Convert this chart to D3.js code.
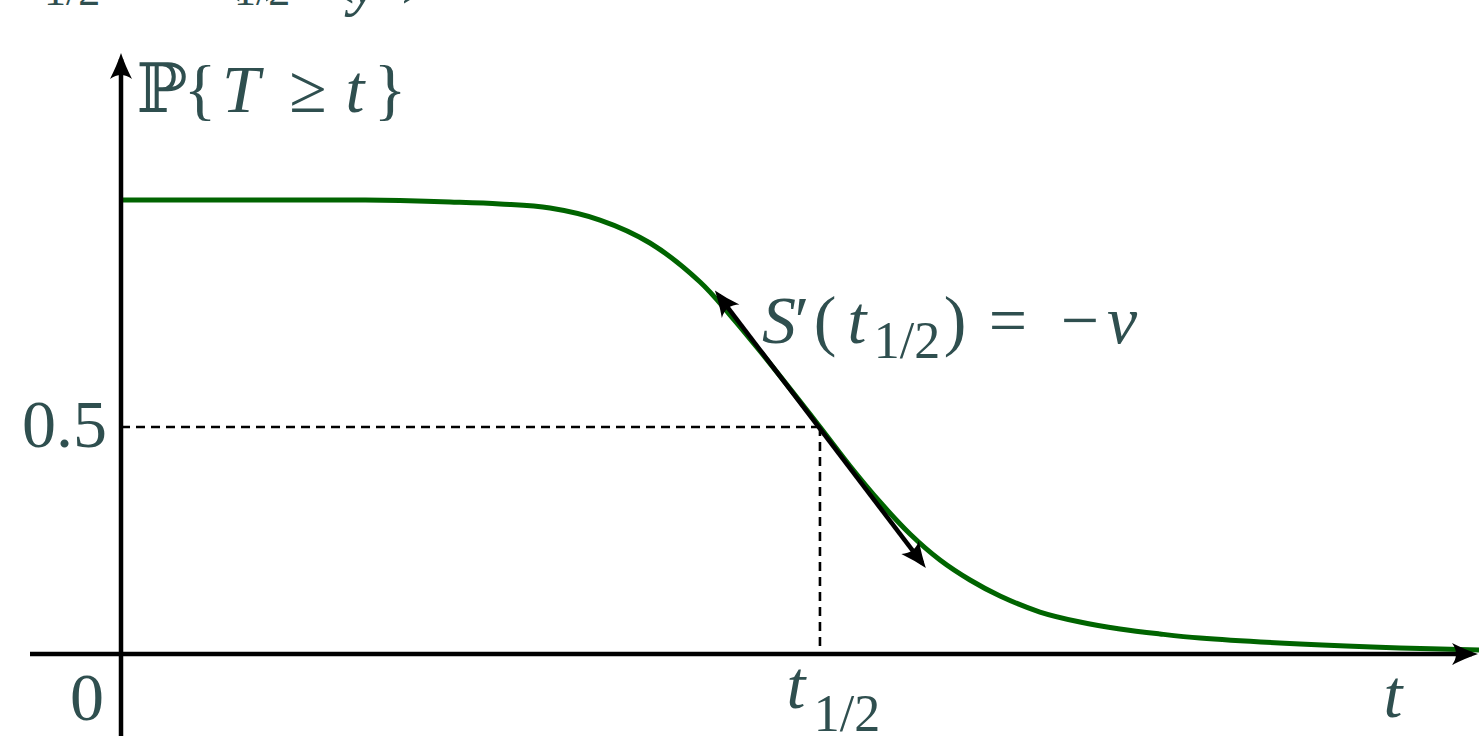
<!DOCTYPE html>
<html><head><meta charset="utf-8">
<script src="https://cdn.jsdelivr.net/npm/d3@7"></script>
<style>body{margin:0;background:#fff}svg{display:block}</style>
</head><body>
<svg id="c" width="1479" height="736"></svg>
<script>
// ---- data ----
const tValues  = [0, 1.318, 1.686, 2.054, 2.423, 2.791, 3.159, 3.527, 3.895, 4.264, 4.485, 4.705, 5.147, 5.368, 5.589, 5.810, 6.031, 6.252, 6.473, 6.767, 7.062, 7.356, 7.651, 7.946, 8.682, 9.418, 10];
const survival = [1.0, 1.0, 1.0, 0.9987, 0.9956, 0.9912, 0.9824, 0.9559, 0.9053, 0.8194, 0.7467, 0.6674, 0.5, 0.4141, 0.3348, 0.2643, 0.2070, 0.1630, 0.1278, 0.0925, 0.0705, 0.0551, 0.0441, 0.0352, 0.0220, 0.0132, 0.0088];
const halfLifeT = 5.147;
const halfValue = 0.5;
const tangentT = [4.40, 5.90];
const tangentS = [0.790, 0.200];
const yTickValues = [0.5];
const yTickLabels = ["0.5"];

// ---- scales ----
const W = 1479, H = 736;
const x = d3.scaleLinear().domain([0, 10]).range([121, 1479]);
const y = d3.scaleLinear().domain([0, 1]).range([654, 200]);

const svg = d3.select("#c");
const textColor = "#2f4f4f";
const serif = "'Liberation Serif','DejaVu Serif',serif";

const defs = svg.append("defs");
defs.append("marker").attr("id","arr")
  .attr("viewBox","-29 -13 31 26").attr("refX",-6).attr("refY",0)
  .attr("markerUnits","userSpaceOnUse").attr("markerWidth",31).attr("markerHeight",26)
  .attr("orient","auto-start-reverse")
  .append("path").attr("d","M0,0 Q-12,-4 -26,-11 Q-18,0 -26,11 Q-12,4 0,0 Z").attr("fill","#000");

// top cropped text (remnants of a line above the figure)
const topG = svg.append("g").attr("fill", textColor).attr("font-family", serif);
const tp1 = topG.append("text").attr("y", -6).attr("font-size", 64);
tp1.append("tspan").attr("x", 18).attr("font-style","italic").text("t");
tp1.append("tspan").attr("x", 44).attr("y", 5).attr("font-size", 44).text("1/2");
const tp2 = topG.append("text").attr("y", -12).attr("font-size", 64);
tp2.append("tspan").attr("x", 150).attr("font-style","italic").text("S");
tp2.append("tspan").attr("x", 220).text("(");
tp2.append("tspan").attr("x", 234).attr("y", 5).attr("font-size", 44).text("1/2");
tp2.append("tspan").attr("x", 264).attr("y", -12).text(")");
const tp3 = topG.append("text").attr("y", -10).attr("font-size", 64);
tp3.append("tspan").attr("x", 333).text("(");
tp3.append("tspan").attr("x", 350).attr("y", 3).attr("font-style","italic").text("y");
tp3.append("tspan").attr("x", 402).attr("y", -10).text(")");

// dashed guides
svg.append("line").attr("x1", x(0)).attr("x2", x(halfLifeT)).attr("y1", y(halfValue)).attr("y2", y(halfValue))
  .attr("stroke","#000").attr("stroke-width",2.6).attr("stroke-dasharray","9,6");
svg.append("line").attr("x1", x(halfLifeT)).attr("x2", x(halfLifeT)).attr("y1", y(halfValue)).attr("y2", y(0))
  .attr("stroke","#000").attr("stroke-width",2.6).attr("stroke-dasharray","9,6");

// curve
const pts = tValues.map((t,i)=>[t, survival[i]]);
const line = d3.line().x(d=>x(d[0])).y(d=>y(d[1])).curve(d3.curveCatmullRom.alpha(0.5));
svg.append("path").attr("d", line(pts)).attr("fill","none").attr("stroke","#006400").attr("stroke-width",5);

// axes
svg.append("line").attr("x1", 30).attr("x2", W - 7).attr("y1", y(0)).attr("y2", y(0))
  .attr("stroke","#000").attr("stroke-width",4.5).attr("marker-end","url(#arr)");
svg.append("line").attr("x1", x(0)).attr("x2", x(0)).attr("y1", H).attr("y2", 59)
  .attr("stroke","#000").attr("stroke-width",4.5).attr("marker-end","url(#arr)");

// tangent
svg.append("line").attr("x1", x(tangentT[0])).attr("y1", y(tangentS[0])).attr("x2", x(tangentT[1])).attr("y2", y(tangentS[1]))
  .attr("stroke","#000").attr("stroke-width",4.5).attr("marker-start","url(#arr)").attr("marker-end","url(#arr)");

// labels
const lab = svg.append("g").attr("fill", textColor).attr("font-family", serif).attr("font-size", 68);
yTickValues.forEach((v,i)=>{
  lab.append("text").attr("x", 107).attr("y", y(v) + 20).attr("text-anchor","end").text(yTickLabels[i]);
});
lab.append("text").attr("x", 104).attr("y", 720).attr("text-anchor","end").text("0");
lab.append("text").attr("x", 1393).attr("y", 717).attr("text-anchor","middle").attr("font-style","italic").text("t");

// t_{1/2}
const th = lab.append("text").attr("y", 708).attr("text-anchor","middle");
th.append("tspan").attr("x", 796).attr("font-style","italic").text("t");
th.append("tspan").attr("x", 847).attr("y", 731).attr("font-size", 52).text("1/2");

// P{T >= t}
const py = lab.append("text").attr("y", 112).attr("text-anchor","middle");
py.append("tspan").attr("x", 162).text("ℙ");
py.append("tspan").attr("x", 200).text("{");
py.append("tspan").attr("x", 241).attr("font-style","italic").text("T");
py.append("tspan").attr("x", 308).text("≥");
py.append("tspan").attr("x", 355).attr("font-style","italic").text("t");
py.append("tspan").attr("x", 390).text("}");

// S'(t_{1/2}) = -v
const sd = lab.append("text").attr("y", 343).attr("text-anchor","middle");
sd.append("tspan").attr("x", 779).attr("font-style","italic").text("S");
sd.append("tspan").attr("x", 802).text("′");
sd.append("tspan").attr("x", 825).text("(");
sd.append("tspan").attr("x", 857).attr("font-style","italic").text("t");
sd.append("tspan").attr("x", 907).attr("y", 358).attr("font-size", 52).text("1/2");
sd.append("tspan").attr("x", 955).attr("y", 343).text(")");
sd.append("tspan").attr("x", 1008).text("=");
sd.append("tspan").attr("x", 1080).text("−");
sd.append("tspan").attr("x", 1122).attr("font-style","italic").text("v");
</script>
</body></html>
